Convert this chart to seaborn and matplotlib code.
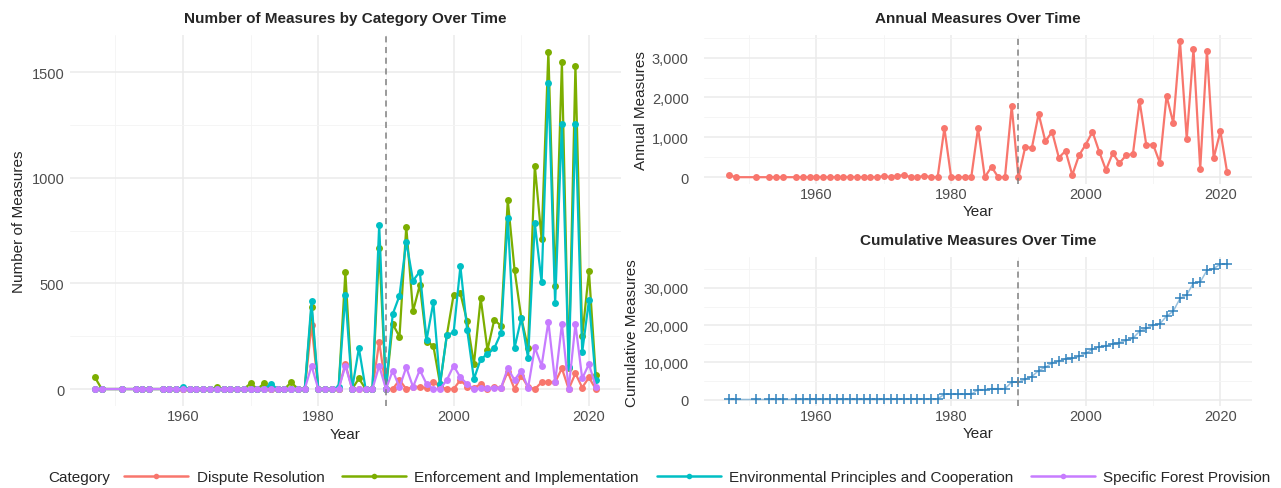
import numpy as np
import pandas as pd
import matplotlib
matplotlib.use("Agg")
import matplotlib.pyplot as plt
from matplotlib.lines import Line2D
from matplotlib.ticker import FuncFormatter, MultipleLocator
import seaborn as sns

# ---------------- data ----------------
years = ([1947, 1948, 1951, 1953, 1954, 1955, 1957, 1958, 1959]
         + list(range(1960, 2022)))

categories = ["Dispute Resolution", "Enforcement and Implementation",
              "Environmental Principles and Cooperation", "Specific Forest Provision"]

dispute = ([0, 0, 0, 0, 0, 0, 0, 0, 0]
           + [0, 0, 0, 0, 0, 0, 0, 0, 0, 0]                       # 1960s
           + [0, 0, 0, 0, 0, 0, 0, 0, 0, 305]                     # 1970s
           + [0, 0, 0, 0, 120, 0, 0, 0, 0, 224]                   # 1980s
           + [0, 0, 43, 0, 10, 10, 5, 35, 10, 0]                  # 1990s
           + [0, 43, 10, 5, 24, 0, 10, 5, 82, 0]                  # 2000s
           + [63, 10, 0, 32, 32, 32, 98, 0, 74, 7]                # 2010s
           + [55, 0])                                             # 2020-21

enforcement = ([55, 0, 0, 0, 0, 0, 0, 0, 0]
               + [0, 0, 0, 0, 0, 8, 0, 0, 0, 0]
               + [27, 0, 27, 0, 0, 0, 32, 0, 0, 387]
               + [0, 0, 0, 0, 553, 0, 50, 0, 0, 666]
               + [0, 308, 248, 769, 368, 493, 224, 205, 24, 256]
               + [447, 453, 320, 118, 430, 185, 327, 300, 895, 565]
               + [336, 194, 1058, 710, 1598, 489, 1547, 100, 1532, 249]
               + [557, 66])

environmental = ([0, 0, 0, 0, 0, 0, 0, 0, 0]
                 + [8, 0, 0, 0, 0, 0, 0, 0, 0, 0]
                 + [0, 0, 0, 24, 0, 0, 0, 0, 0, 415]
                 + [0, 0, 0, 10, 445, 0, 194, 0, 0, 777]
                 + [0, 355, 442, 698, 513, 556, 232, 410, 24, 256]
                 + [268, 581, 280, 47, 142, 165, 193, 265, 810, 194]
                 + [336, 147, 785, 505, 1450, 406, 1255, 103, 1255, 174]
                 + [421, 43])

forest = ([0, 0, 0, 0, 0, 0, 0, 0, 0]
          + [0, 0, 0, 0, 0, 0, 0, 0, 0, 0]
          + [0, 0, 0, 0, 0, 0, 0, 0, 0, 110]
          + [0, 0, 0, 0, 110, 0, 0, 0, 0, 110]
          + [0, 87, 8, 103, 10, 90, 24, 0, 0, 43]
          + [110, 55, 24, 0, 3, 3, 7, 5, 98, 43]
          + [87, 5, 197, 110, 319, 32, 308, 0, 308, 50]
          + [118, 11])

annual = ([55, 0, 0, 0, 0, 0, 0, 0, 0]
          + [8, 0, 0, 0, 0, 8, 0, 0, 0, 0]
          + [30, 0, 30, 55, 0, 0, 35, 0, 0, 1230]
          + [0, 0, 0, 10, 1230, 0, 260, 0, 0, 1780]
          + [0, 750, 740, 1590, 900, 1140, 490, 660, 55, 550]
          + [820, 1140, 640, 180, 600, 355, 550, 580, 1900, 800]
          + [820, 365, 2040, 1360, 3410, 960, 3210, 210, 3170, 480]
          + [1150, 120])

cat_colors = ["#F8766D", "#7CAE00", "#00BFC4", "#C77CFF"]
annual_color = "#F8766D"
cum_color = "#3182BD"
ref_year = 1990

# ---------------- frames ----------------
df_cat = pd.DataFrame({
    "Year": years * 4,
    "Measures": dispute + enforcement + environmental + forest,
    "Category": sum([[c] * len(years) for c in categories], []),
})
df_ann = pd.DataFrame({"Year": years, "Annual": annual})
df_ann["Cumulative"] = df_ann["Annual"].cumsum()

# ---------------- style ----------------
sns.set_theme(style="white")
plt.rcParams["font.family"] = ["Liberation Sans", "DejaVu Sans"]

fig = plt.figure(figsize=(12.81, 4.89), dpi=100)
ax1 = fig.add_axes([0.0546, 0.1679, 0.4300, 0.7590])
ax2 = fig.add_axes([0.5496, 0.6217, 0.4278, 0.3057])
ax3 = fig.add_axes([0.5496, 0.1667, 0.4278, 0.3057])


def expand(lo, hi, f=0.05):
    r = hi - lo
    return lo - f * r, hi + f * r


def style_axis(ax, ymajor, yminor, ypad):
    ax.set_facecolor("white")
    for s in ax.spines.values():
        s.set_visible(False)
    ax.xaxis.set_major_locator(MultipleLocator(20))
    ax.xaxis.set_minor_locator(MultipleLocator(10))
    ax.yaxis.set_major_locator(MultipleLocator(ymajor))
    ax.yaxis.set_minor_locator(MultipleLocator(yminor))
    ax.grid(which="major", color="#EBEBEB", linewidth=1.1)
    ax.grid(which="minor", color="#F4F4F4", linewidth=0.6)
    ax.set_axisbelow(True)
    ax.tick_params(which="both", length=0, labelsize=10.5, labelcolor="#4D4D4D")
    ax.tick_params(axis="x", pad=2)
    ax.tick_params(axis="y", pad=ypad)
    ax.set_xlim(*expand(min(years), max(years)))


# ---------------- left panel ----------------
sns.lineplot(data=df_cat, x="Year", y="Measures", hue="Category", hue_order=categories,
             palette=cat_colors, marker="o", markersize=5, markeredgewidth=0,
             linewidth=1.6, estimator=None, errorbar=None, legend=False, ax=ax1)
style_axis(ax1, 500, 250, 4)
ax1.set_ylim(*expand(0, max(enforcement)))
ax1.axvline(ref_year, color="#808080", linestyle=(0, (4, 3)), linewidth=1.1)
ax1.set_title("Number of Measures by Category Over Time", fontsize=11,
              fontweight="bold", pad=9)
ax1.set_xlabel("Year", fontsize=11, labelpad=3)
ax1.set_ylabel("Number of Measures", fontsize=11, labelpad=4)

# ---------------- right top ----------------
sns.lineplot(data=df_ann, x="Year", y="Annual", color=annual_color, marker="o",
             markersize=5, markeredgewidth=0, linewidth=1.6, ax=ax2)
style_axis(ax2, 1000, 500, 11)
ax2.set_ylim(*expand(0, max(annual)))
ax2.axvline(ref_year, color="#808080", linestyle=(0, (4, 3)), linewidth=1.1)
ax2.yaxis.set_major_formatter(FuncFormatter(lambda v, p: f"{int(v):,}"))
ax2.set_title("Annual Measures Over Time", fontsize=11, fontweight="bold", pad=9)
ax2.set_xlabel("Year", fontsize=11, labelpad=2)
ax2.set_ylabel("Annual Measures", fontsize=11, labelpad=3)

# ---------------- right bottom ----------------
sns.lineplot(data=df_ann, x="Year", y="Cumulative", color=cum_color, alpha=0.5,
             linewidth=1.1, ax=ax3)
sns.scatterplot(data=df_ann, x="Year", y="Cumulative", color=cum_color, marker="+",
                s=45, linewidth=1.1, ax=ax3)
style_axis(ax3, 10000, 5000, 11)
ax3.set_ylim(*expand(0, df_ann["Cumulative"].max()))
ax3.axvline(ref_year, color="#808080", linestyle=(0, (4, 3)), linewidth=1.1)
ax3.yaxis.set_major_formatter(FuncFormatter(lambda v, p: f"{int(v):,}"))
ax3.set_title("Cumulative Measures Over Time", fontsize=11, fontweight="bold", pad=9)
ax3.set_xlabel("Year", fontsize=11, labelpad=2)
ax3.set_ylabel("Cumulative Measures", fontsize=11, labelpad=3)

# ---------------- legend ----------------
handles = [Line2D([0], [0], color=c, marker="o", markersize=4, markeredgewidth=0,
                  linewidth=1.8) for c in cat_colors]
fig.text(48 / 1281, 1 - 478 / 489, "Category", fontsize=11, va="center", ha="left")
fig.legend(handles, categories, loc="center left", bbox_to_anchor=(124 / 1281, 1 - 478 / 489),
           ncol=4, frameon=False, fontsize=11, handlelength=4.2, columnspacing=1.15,
           handletextpad=0.55, borderaxespad=0, borderpad=0)

fig.savefig("out.png", dpi=100)
